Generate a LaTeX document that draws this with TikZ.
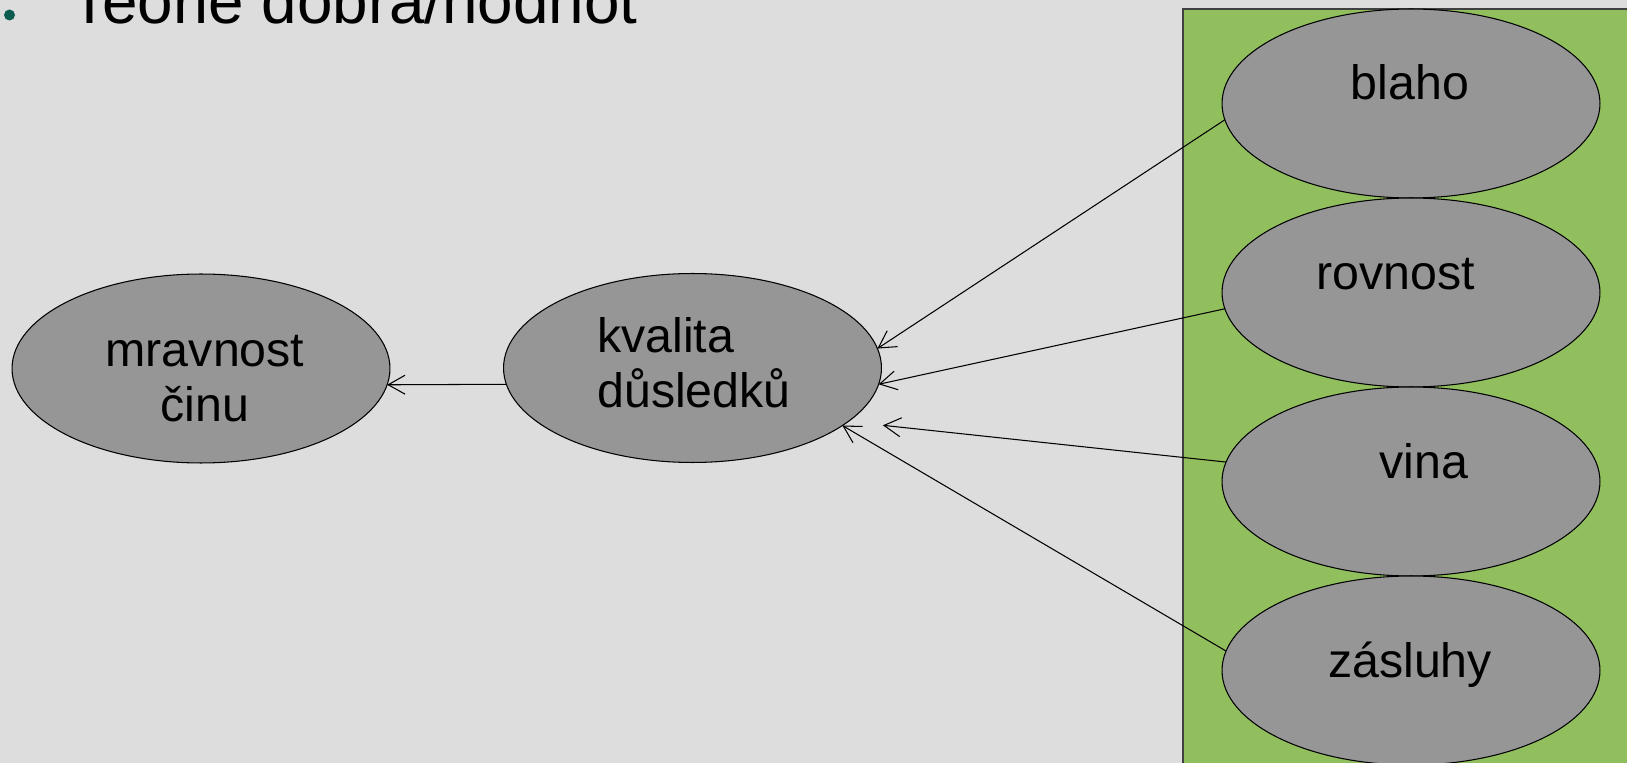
\documentclass[tikz,border=0pt]{standalone}
\usepackage{fontspec}
\setmainfont{Liberation Sans}
\usetikzlibrary{shapes.geometric, arrows.meta}

\definecolor{slidebg}{HTML}{DDDDDD}
\definecolor{boxgreen}{HTML}{92BF5E}
\definecolor{ovalgray}{HTML}{969696}
\definecolor{dotteal}{HTML}{0B5C4F}

\begin{document}
\begin{tikzpicture}[x=0.02cm, y=-0.02cm,
  oval/.style={ellipse, draw=black, fill=ovalgray, line width=0.6pt,
    minimum width=7.56cm, minimum height=3.78cm, inner sep=0pt, outer sep=0pt},
  word/.style={font=\fontsize{27.5}{31.75}\selectfont, inner sep=0pt, anchor=base},
  link/.style={line width=0.6pt, -{Straight Barb[length=9.6pt, width=10.8pt]}}]

\fill [slidebg] (0,0) rectangle (1627,763);
\useasboundingbox (0,0) rectangle (1627,763);

%Title:
\fill [dotteal] (9.5,15) circle [radius=5.5];
\node (title) [font=\fontsize{36.3}{43}\selectfont, inner sep=0pt, anchor=base west] at (70,23.3) {Teorie dobra/hodnot};

%Values:
\filldraw [fill=boxgreen, draw=black!75, line width=0.6pt] (1183,9) rectangle (1640,780);

\node (blaho) [oval] at (1411,103.5) {};
\node (rovnost) [oval] at (1411,292.5) {};
\node (vina) [oval] at (1411,481.5) {};
\node (zasluhy) [oval] at (1411,670.5) {};
\node (kvalita) [oval] at (692.5,368) {};
\node (mravnost) [oval] at (201,368.5) {};

\node (blaho-t) [word] at (1410,100) {blaho};
\node (rovnost-t) [word] at (1395.5,290) {rovnost};
\node (vina-t) [word] at (1424,479) {vina};
\node (zasluhy-t) [word] at (1410,677) {zásluhy};
\node (kvalita-t) [word, align=left, anchor=base west] at (597,408) {kvalita\\důsledků};
\node (mravnost-t) [word, align=center] at (205,422) {mravnost\\činu};

\path [link]
(blaho.185.4) edge (kvalita.6)
(rovnost.185.4) edge (kvalita.-5.7)
(vina.174.3) edge [shorten >=0.70cm] (kvalita.-19.3)
(zasluhy.174.1) edge (kvalita.-21)
(kvalita.185.6) edge (mravnost.-5.6)
;

\end{tikzpicture}
\end{document}
